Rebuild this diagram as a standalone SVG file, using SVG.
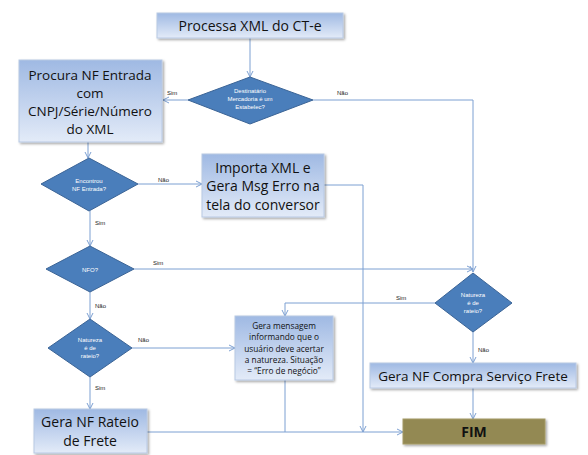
<svg xmlns="http://www.w3.org/2000/svg" width="588" height="455" viewBox="0 0 588 455">
<defs>
<linearGradient id="bg" x1="0" y1="0" x2="0" y2="1">
<stop offset="0" stop-color="#9fb9e3"/>
<stop offset="1" stop-color="#e3ebf8"/>
</linearGradient>
<filter id="sh" x="-10%" y="-10%" width="125%" height="130%">
<feDropShadow dx="1.5" dy="1.5" stdDeviation="1.2" flood-color="#000" flood-opacity="0.35"/>
</filter>
<marker id="ah" markerWidth="8" markerHeight="8" refX="7" refY="4" orient="auto" markerUnits="userSpaceOnUse">
<path d="M1,1 L7,4 L1,7" fill="none" stroke="#7da0d2" stroke-width="1"/>
</marker>
</defs>
<style>
.box{fill:url(#bg);stroke:#b8c9e4;stroke-width:1;filter:url(#sh)}
.dia{fill:#4a7ebb;stroke:#3b6496;stroke-width:1}
.bt{font-family:"Open Sans","Liberation Sans",sans-serif;fill:#111;text-anchor:middle}
.dt{font-family:"Liberation Sans",sans-serif;font-size:6px;fill:#fff;text-anchor:middle}
.lb{font-family:"Liberation Sans",sans-serif;font-size:6px;fill:#222}
.c{fill:none;stroke:#7da0d2;stroke-width:1}
.ca{fill:none;stroke:#7da0d2;stroke-width:1;marker-end:url(#ah)}
</style>
<rect width="588" height="455" fill="#fff"/>
<g id="connectors">
<path class="ca" d="M250,38 V77"/>
<path class="ca" d="M188,100 H163"/>
<path class="ca" d="M313,100 H473 V272"/>
<path class="ca" d="M88,142 V158"/>
<path class="ca" d="M138,184 H202"/>
<path class="ca" d="M324,185 H363 V432"/>
<path class="ca" d="M90,211 V246"/>
<path class="ca" d="M134,269 H473"/>
<path class="ca" d="M90,292 V319"/>
<path class="ca" d="M132,348 H235"/>
<path class="ca" d="M90,377 V409"/>
<path class="ca" d="M435,303 H285 V316"/>
<path class="c" d="M285,380 V432"/>
<path class="ca" d="M147,432 H403"/>
<path class="ca" d="M473,332 V363"/>
<path class="ca" d="M473,388 V419"/>
<text class="lb" x="167" y="95">Sim</text>
<text class="lb" x="337" y="95">Não</text>
<text class="lb" x="158" y="182">Não</text>
<text class="lb" x="95" y="225">Sim</text>
<text class="lb" x="153" y="265">Sim</text>
<text class="lb" x="95" y="308">Não</text>
<text class="lb" x="138" y="342">Não</text>
<text class="lb" x="95" y="390">Sim</text>
<text class="lb" x="396" y="300">Sim</text>
<text class="lb" x="478" y="352">Não</text>
</g>
<g id="n1">
<rect class="box" x="157" y="13" width="186" height="25"/>
<text class="bt" x="250" y="31" font-size="14">Processa XML do CT-e</text>
</g>
<g id="n2">
<path class="dia" d="M250,77 L313,100 L250,124 L188,100 Z"/>
<text class="dt" x="250" y="93">Destinatário</text>
<text class="dt" x="250" y="101">Mercadoria é  um</text>
<text class="dt" x="250" y="109">Estabelec?</text>
</g>
<g id="n3">
<rect class="box" x="19" y="60" width="143" height="82"/>
<text class="bt" x="90" y="80" font-size="13.5">Procura NF Entrada</text>
<text class="bt" x="90" y="98" font-size="13.5">com</text>
<text class="bt" x="90" y="116" font-size="13.5">CNPJ/Série/Número</text>
<text class="bt" x="90" y="134" font-size="13.5">do XML</text>
</g>
<g id="n4">
<path class="dia" d="M89,158 L138,184 L89,211 L41,184 Z"/>
<text class="dt" x="89" y="183">Encontrou</text>
<text class="dt" x="89" y="191">NF Entrada?</text>
</g>
<g id="n5">
<rect class="box" x="202" y="154" width="122" height="63"/>
<text class="bt" x="263" y="173" font-size="14">Importa XML e</text>
<text class="bt" x="263" y="191" font-size="14">Gera Msg Erro na</text>
<text class="bt" x="263" y="210" font-size="14">tela do conversor</text>
</g>
<g id="n6">
<path class="dia" d="M90,246 L134,269 L90,292 L46,269 Z"/>
<text class="dt" x="90" y="272">NFO?</text>
</g>
<g id="n7">
<path class="dia" d="M90,319 L132,348 L90,377 L48,348 Z"/>
<text class="dt" x="90" y="342">Natureza</text>
<text class="dt" x="90" y="350">é de</text>
<text class="dt" x="90" y="358">rateio?</text>
</g>
<g id="n8">
<rect class="box" x="235" y="316" width="98" height="64"/>
<text class="bt" x="284" y="329" font-size="8.3">Gera mensagem</text>
<text class="bt" x="284" y="340" font-size="8.3">informando que o</text>
<text class="bt" x="284" y="352" font-size="8.3">usuário deve acertar</text>
<text class="bt" x="284" y="363" font-size="8.3">a natureza.  Situação</text>
<text class="bt" x="284" y="374" font-size="8.3">= “Erro de negócio”</text>
</g>
<g id="n9">
<rect class="box" x="34" y="409" width="113" height="44"/>
<text class="bt" x="90" y="427" font-size="14">Gera NF Rateio</text>
<text class="bt" x="90" y="446" font-size="14">de Frete</text>
</g>
<g id="n10">
<path class="dia" d="M473,273 L512,303 L473,332 L435,303 Z"/>
<text class="dt" x="473" y="297">Natureza</text>
<text class="dt" x="473" y="305">é de</text>
<text class="dt" x="473" y="313">rateio?</text>
</g>
<g id="n11">
<rect class="box" x="370" y="363" width="206" height="25"/>
<text class="bt" x="473" y="381" font-size="13.5">Gera NF Compra Serviço Frete</text>
</g>
<g id="n12">
<rect x="403" y="419" width="142" height="25" fill="#938953" stroke="#a49a66" stroke-width="1" filter="url(#sh)"/>
<text class="bt" x="474" y="437" font-size="14" font-weight="bold">FIM</text>
</g>
</svg>
